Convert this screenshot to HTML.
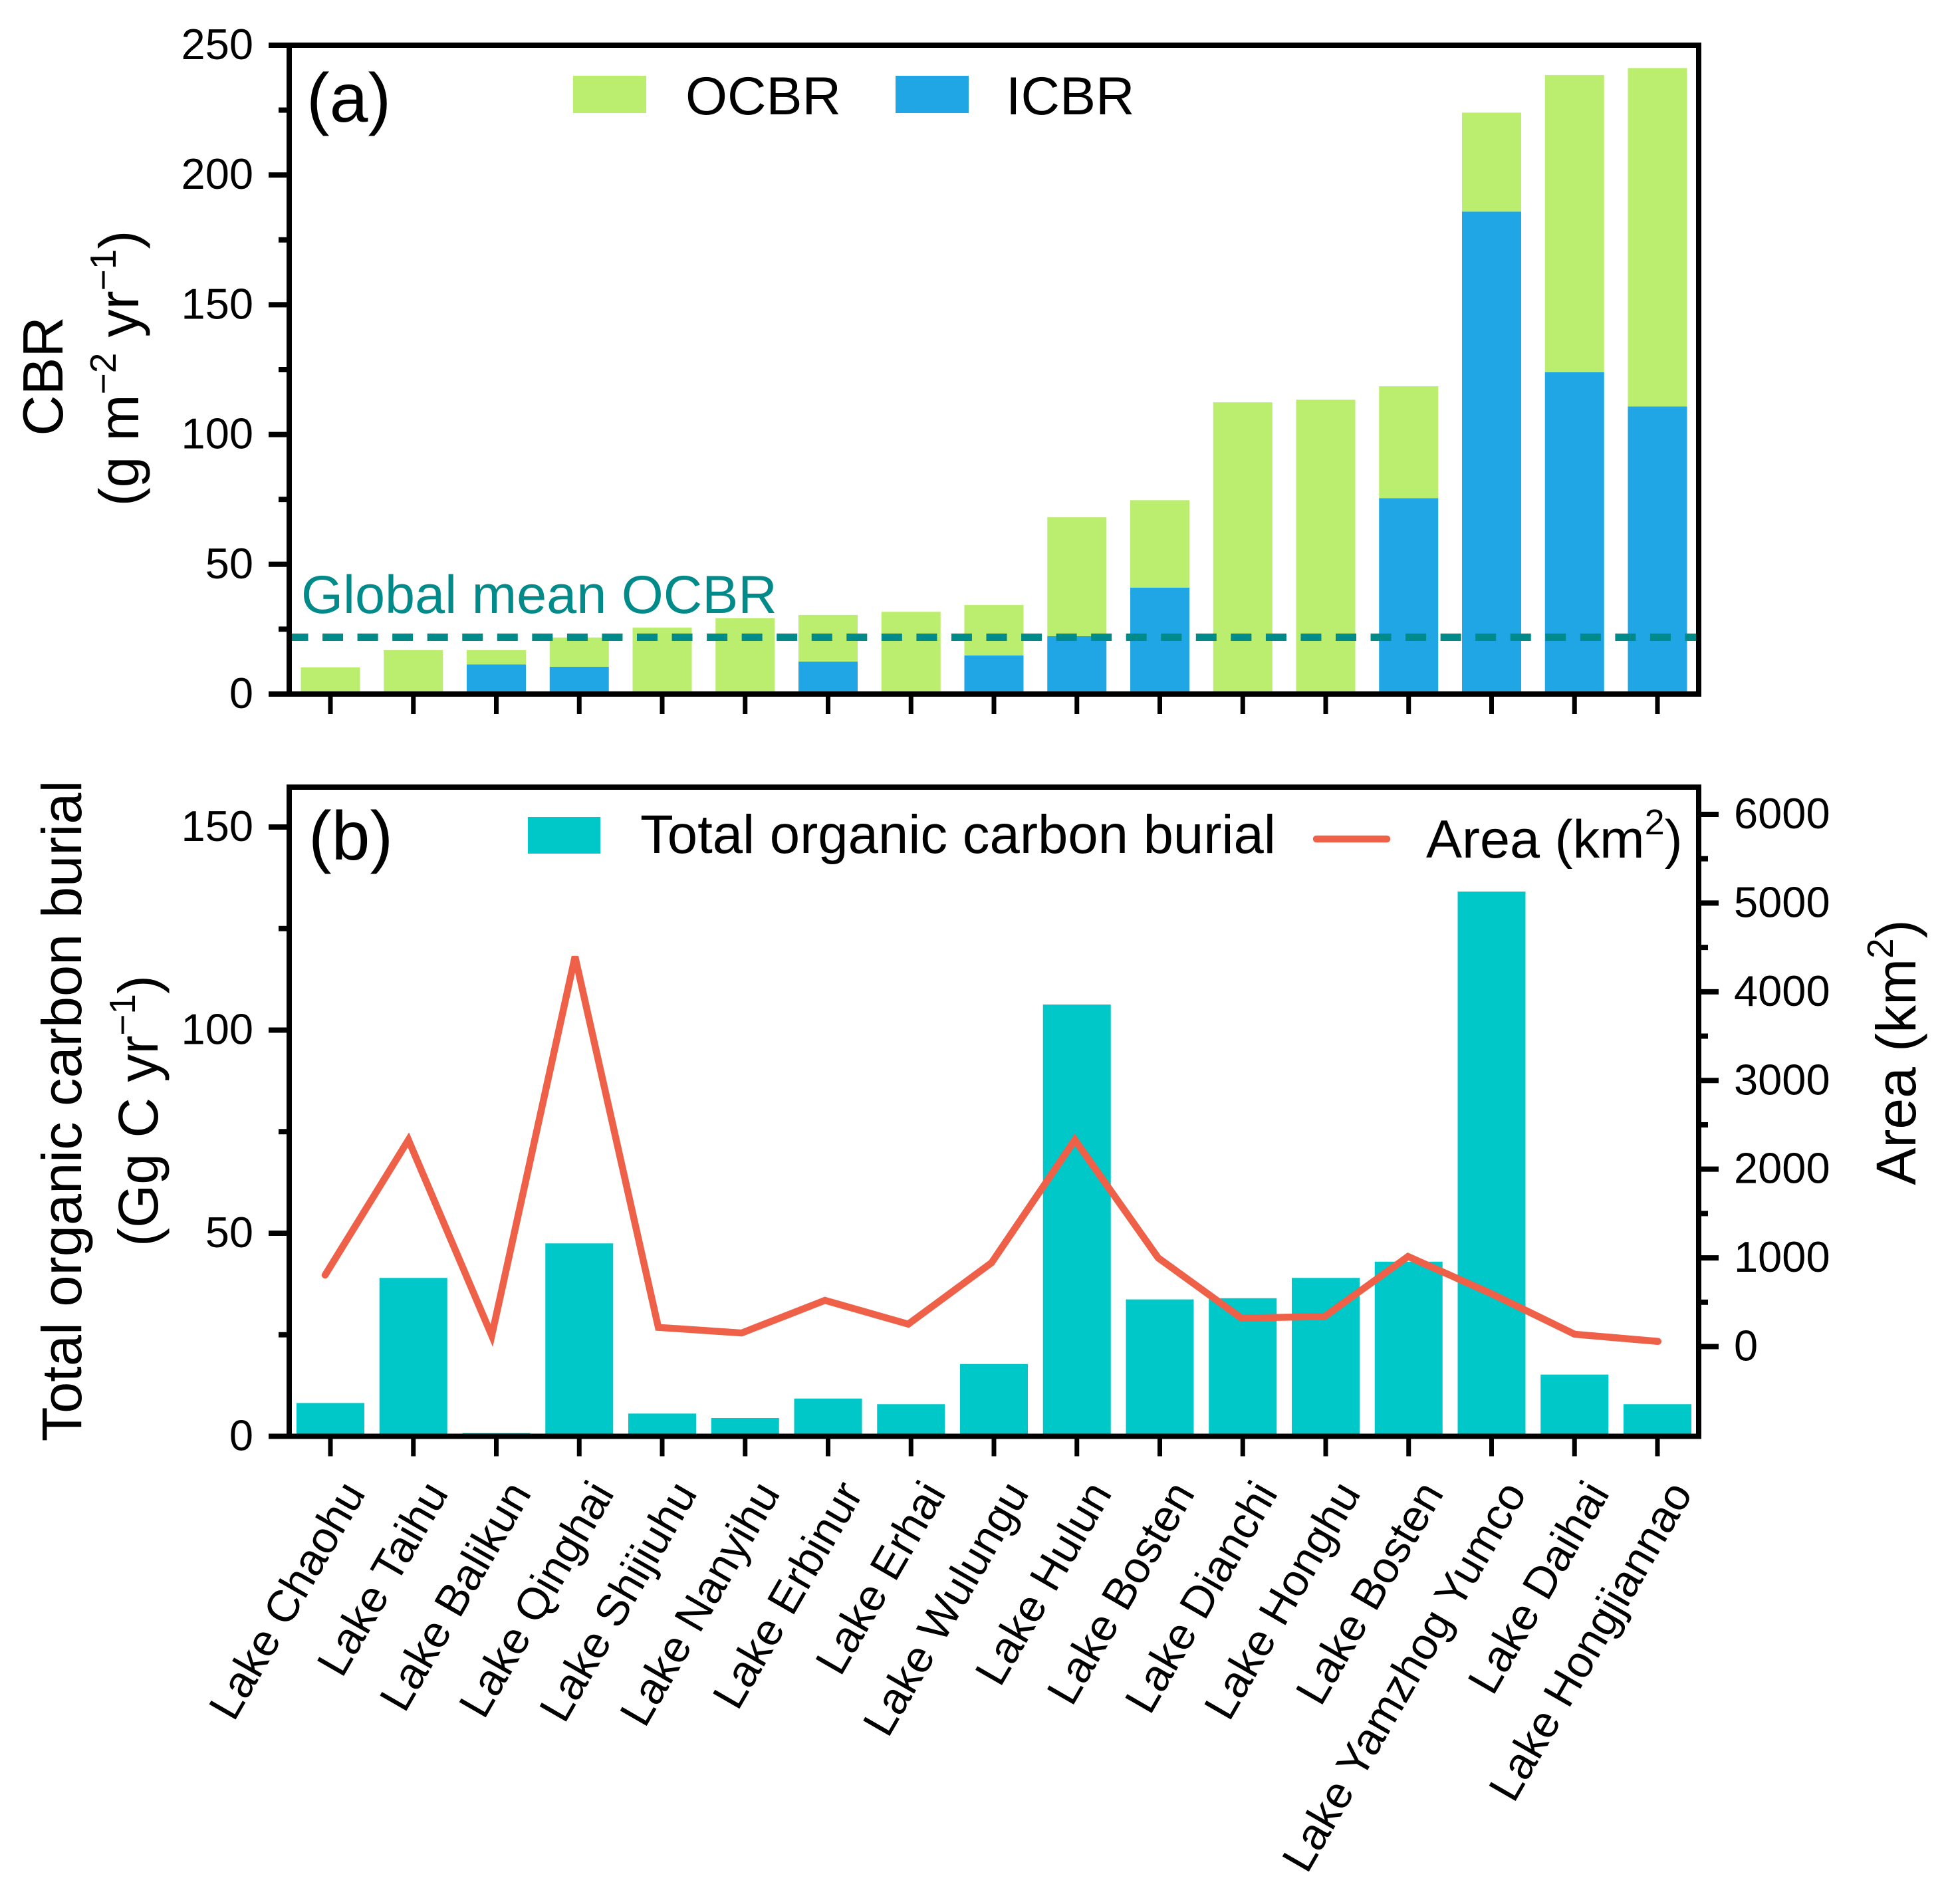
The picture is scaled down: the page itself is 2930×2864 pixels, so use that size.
<!DOCTYPE html>
<html>
<head>
<meta charset="utf-8">
<title>Lake carbon burial chart</title>
<style>
html,body{margin:0;padding:0;background:#fff;}
svg{display:block;}
text{font-family:"Liberation Sans",sans-serif;fill:#000;}
</style>
</head>
<body>
<svg id="chart" xmlns="http://www.w3.org/2000/svg" width="2930" height="2864" viewBox="0 0 2930 2864">
<rect x="0" y="0" width="2930" height="2864" fill="#ffffff"/>
<g id="marks-a"></g>
<g id="marks-b"></g>
<g id="axes"></g>

<text x="461" y="183" font-size="104">(a)</text>
<rect x="862" y="114" width="110" height="56" fill="#bbee6e"/>
<text x="1031" y="172" font-size="81">OCBR</text>
<rect x="1347" y="114" width="110" height="56" fill="#20a5e5"/>
<text x="1513" y="172" font-size="81">ICBR</text>
<text x="453" y="922" font-size="81" style="fill:#008a8a">Global mean OCBR</text>

<text transform="translate(94,566) rotate(-90)" text-anchor="middle" font-size="85">CBR</text>
<text transform="translate(208,554) rotate(-90)" text-anchor="middle" font-size="84">(g m<tspan font-size="55" dy="-34">−2</tspan><tspan dy="34"> yr</tspan><tspan font-size="55" dy="-34">−1</tspan><tspan dy="34">)</tspan></text>

<text x="464" y="1293" font-size="104">(b)</text>
<rect x="794" y="1229" width="109" height="55" fill="#00c8c8"/>
<text x="963" y="1283" font-size="81.5">Total organic carbon burial</text>
<line x1="1980" y1="1262" x2="2086" y2="1262" stroke="#ee6048" stroke-width="10.5" stroke-linecap="round"/>
<text x="2145" y="1290" font-size="81">Area (km<tspan font-size="54" dy="-35">2</tspan><tspan dy="35">)</tspan></text>

<text transform="translate(122,1671) rotate(-90)" text-anchor="middle" font-size="84.8">Total organic carbon burial</text>
<text transform="translate(237,1671) rotate(-90)" text-anchor="middle" font-size="84">(Gg C yr<tspan font-size="55" dy="-34">−1</tspan><tspan dy="34">)</tspan></text>
<text transform="translate(2881,1583) rotate(-90)" text-anchor="middle" font-size="84">Area (km<tspan font-size="55" dy="-34">2</tspan><tspan dy="34">)</tspan></text>
</svg>
<script>
const lakes = ["Lake Chaohu","Lake Taihu","Lake Balikun","Lake Qinghai","Lake Shijiuhu","Lake Nanyihu","Lake Erbinur","Lake Erhai","Lake Wulungu","Lake Hulun","Lake Bosten","Lake Dianchi","Lake Honghu","Lake Bosten","Lake Yamzhog Yumco","Lake Daihai","Lake Hongjiannao"];
const icbr = [0,0,11.4,10.5,0,0,12.5,0,14.9,22.3,41,0,0,75.5,185.9,124,110.8];
const ocbr = [10.3,16.9,5.5,11.3,25.6,29.2,18,31.7,19.4,45.8,33.7,112.4,113.4,43.1,38.1,114.5,130.4];
const totalBurial = [8.2,39,0.8,47.5,5.6,4.5,9.3,7.9,17.8,106.3,33.7,34,39,43,134.1,15.2,7.9];
const areaKm2 = [806,2330,124,4396,216,153,521,253,945,2330,1000,320,340,1015,597,139,58];
const globalMeanOcbr = [21.9];
const ticksAMajor = [0,50,100,150,200,250];
const ticksAMinor = [25,75,125,175,225];
const ticksBMajor = [0,50,100,150];
const ticksBMinor = [25,75,125];
const ticksRightMajor = [0,1000,2000,3000,4000,5000,6000];
const ticksRightMinor = [500,1500,2500,3500,4500,5500];

const NS = "http://www.w3.org/2000/svg";
function make(parent, tag, attrs, txt){
  const el = document.createElementNS(NS, tag);
  for (const k in attrs) el.setAttribute(k, attrs[k]);
  if (txt !== undefined) el.textContent = txt;
  parent.appendChild(el);
  return el;
}
const L = 435, R = 2555;
const A_TOP = 68, A_BOT = 1044, B_TOP = 1184, B_BOT = 2160.5;
const xCat = i => 497 + i * 124.75;
const xLine = i => 489 + i * 125.3;
const yA = v => A_BOT - v * (A_BOT - A_TOP) / 250;
const yB = v => B_BOT - v * (B_BOT - 1244) / 150;
const yArea = v => 2025.5 - v * (2025.5 - 1225) / 6000;

const ga = document.getElementById("marks-a");
const gb = document.getElementById("marks-b");
const gx = document.getElementById("axes");

lakes.forEach((name, i) => {
  const w = 89, x = xCat(i) - w / 2;
  if (icbr[i] > 0) {
    const blue = make(ga, "rect", {x: x, y: yA(icbr[i]), width: w, height: yA(0) - yA(icbr[i]), fill: "#20a5e5"});
    
    
  }
  const green = make(ga, "rect", {x: x, y: yA(icbr[i] + ocbr[i]), width: w, height: yA(icbr[i]) - yA(icbr[i] + ocbr[i]), fill: "#bbee6e"});
  
  

  const wb = 102;
  const teal = make(gb, "rect", {x: xCat(i) - wb / 2, y: yB(totalBurial[i]), width: wb, height: yB(0) - yB(totalBurial[i]), fill: "#00c8c8"});
  
  
});

const meanLine = make(ga, "line", {x1: L - 2.5, x2: R - 3, y1: yA(globalMeanOcbr[0]), y2: yA(globalMeanOcbr[0]), stroke: "#008a8a", "stroke-width": 11, "stroke-dasharray": "31 21.55"});



const areaPath = make(gb, "polyline", {points: areaKm2.map((v, i) => xLine(i) + "," + yArea(v)).join(" "), fill: "none", stroke: "#ee6048", "stroke-width": 10.5, "stroke-linejoin": "miter", "stroke-linecap": "round"});



const frameA = make(gx, "rect", {x: L, y: A_TOP, width: R - L, height: A_BOT - A_TOP, fill: "none", stroke: "#000", "stroke-width": 8});


const frameB = make(gx, "rect", {x: L, y: B_TOP, width: R - L, height: B_BOT - B_TOP, fill: "none", stroke: "#000", "stroke-width": 8});



function hTick(x1, x2, y){
  const t = make(gx, "line", {x1: x1, x2: x2, y1: y, y2: y, stroke: "#000", "stroke-width": 8});
  
  
}
function yLabel(x, y, s, anchor){
  const t = make(gx, "text", {x: x, y: y + 21, "font-size": 65, "text-anchor": anchor}, s);
  
  
}
ticksAMajor.forEach(v => { hTick(404, L, yA(v)); yLabel(381, yA(v), String(v), "end"); });
ticksAMinor.forEach(v => hTick(419, L, yA(v)));
ticksBMajor.forEach(v => { hTick(404, L, yB(v)); yLabel(381, yB(v), String(v), "end"); });
ticksBMinor.forEach(v => hTick(419, L, yB(v)));
ticksRightMajor.forEach(v => { hTick(R, 2585, yArea(v)); yLabel(2608, yArea(v), String(v), "start"); });
ticksRightMinor.forEach(v => hTick(R, 2569, yArea(v)));

lakes.forEach((name, i) => {
  const x = xCat(i);
  [A_BOT, B_BOT].forEach(base => {
    const t = make(gx, "line", {x1: x, x2: x, y1: base, y2: base + 30, stroke: "#000", "stroke-width": 7});
    
    
  });
  const lab = make(gx, "text", {transform: "translate(" + (x + 54) + ",2246) rotate(-60)", "text-anchor": "end", "font-size": 67}, name);
  
  
});
</script>
</body>
</html>
